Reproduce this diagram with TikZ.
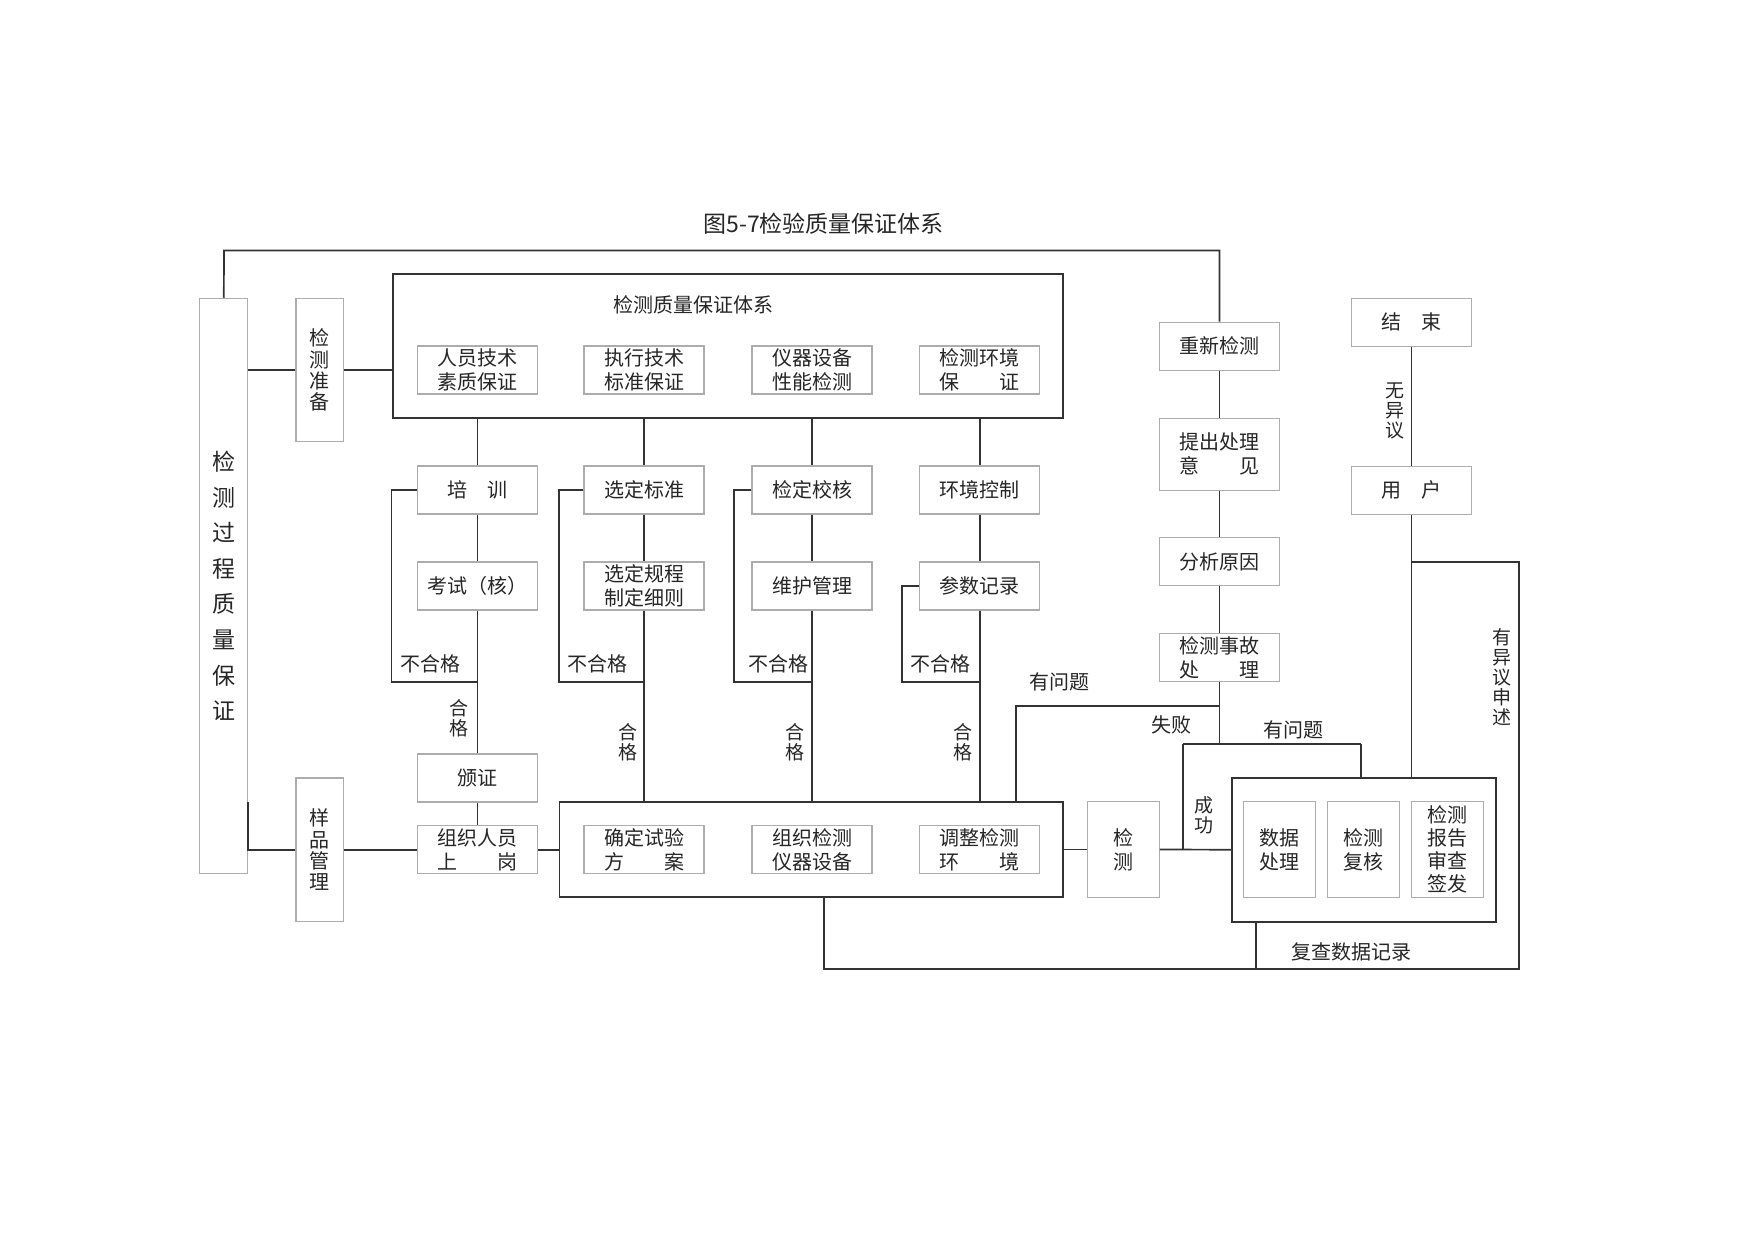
\documentclass[tikz,border=0pt]{standalone}
\usepackage{fontspec}
\newfontfamily\cjk{Noto Sans CJK SC}
\definecolor{boxgray}{gray}{0.68}
\definecolor{linec}{gray}{0.2}
\definecolor{txtc}{gray}{0.15}
\begin{document}
\begin{tikzpicture}[x=0.5pt,y=-0.5pt,
  bx/.style={draw=boxgray, line width=0.55pt, fill=white, inner sep=0pt, align=center, text=txtc,
    font=\cjk\fontsize{10}{11.8}\selectfont, minimum width=60pt, minimum height=24pt},
  vbx/.style={bx, minimum width=23.9pt, minimum height=71.7pt, font=\cjk\fontsize{10}{10.6}\selectfont},
  sbx/.style={bx, minimum width=36pt, minimum height=47.8pt, font=\cjk\fontsize{10}{12}\selectfont},
  frm/.style={draw=linec, line width=0.85pt, inner sep=0pt},
  conn/.style={draw=linec, line width=0.85pt},
  lbl/.style={inner sep=0pt, text=txtc, align=center, font=\cjk\fontsize{10}{12}\selectfont},
  vlbl/.style={lbl, font=\cjk\fontsize{9.5}{10}\selectfont}]
\useasboundingbox (0,0) rectangle (1754,1241);
\fill[white] (0,0) rectangle (1754,1241);

% title
\node[lbl, font=\cjk\fontsize{11.5}{13}\selectfont] (title) at (823.5,224) {图5-7检验质量保证体系};

% left column
\node[bx, minimum width=23.9pt, minimum height=287.7pt, font=\cjk\fontsize{11.5}{17.8}\selectfont] (lt) at (223.8,586) {检\\测\\过\\程\\质\\量\\保\\证};
\node[vbx] (prep) at (319.9,370) {检\\测\\准\\备};
\node[vbx] (samp) at (319.9,849.7) {样\\品\\管\\理};

% quality system frame
\node[frm, minimum width=335.05pt, minimum height=72.15pt] (qsys) at (728.25,346.15) {};
\node[lbl] (qsyst) at (693.8,305) {检测质量保证体系};
\node[bx] (r1a) at (477.5,370) {人员技术\\素质保证};
\node[bx] (r1b) at (644,370) {执行技术\\标准保证};
\node[bx] (r1c) at (812,370) {仪器设备\\性能检测};
\node[bx] (r1d) at (979.7,370) {检测环境\\保\hspace{2em}证};

% row 2
\node[bx] (train) at (477.5,490) {培\hspace{1em}训};
\node[bx] (selstd) at (644,490) {选定标准};
\node[bx] (calib) at (812,490) {检定校核};
\node[bx] (envctl) at (979.7,490) {环境控制};

% row 3
\node[bx] (exam) at (477.5,586) {考试（核）};
\node[bx] (selproc) at (644,586) {选定规程\\制定细则};
\node[bx] (maint) at (812,586) {维护管理};
\node[bx] (param) at (979.7,586) {参数记录};

\node[bx] (cert) at (477.5,778) {颁证};
\node[bx] (post) at (477.5,849.7) {组织人员\\上\hspace{2em}岗};

% execution frame
\node[frm, minimum width=251.85pt, minimum height=47.8pt] (exec) at (811.45,849.5) {};
\node[bx] (plan) at (644,849.7) {确定试验\\方\hspace{2em}案};
\node[bx] (inst) at (812,849.7) {组织检测\\仪器设备};
\node[bx] (adj) at (979.7,849.7) {调整检测\\环\hspace{2em}境};

\node[sbx] (test) at (1123.3,849.5) {检\\测};

% report frame
\node[frm, minimum width=132pt, minimum height=72pt] (rep) at (1363.7,849.7) {};
\node[sbx] (dp) at (1279.5,849.5) {数据\\处理};
\node[sbx] (rc) at (1363.3,849.5) {检测\\复核};
\node[sbx, font=\cjk\fontsize{10}{11.6}\selectfont] (rs) at (1447.9,849.5) {检测\\报告\\审查\\签发};

% right chain
\node[bx] (retest) at (1219.5,346.15) {重新检测};
\node[bx, minimum height=36pt] (propose) at (1219.5,454.15) {提出处理\\意\hspace{2em}见};
\node[bx] (analyze) at (1219.5,561.7) {分析原因};
\node[bx] (accident) at (1219.5,657.85) {检测事故\\处\hspace{2em}理};

\node[bx] (endn) at (1411.5,322.15) {结\hspace{1em}束};
\node[bx] (user) at (1411.5,490.35) {用\hspace{1em}户};

% coordinates
\coordinate (looptl) at (224,250.5);
\coordinate (looptr) at (1219.5,250.5);
\coordinate (ltk) at (247.7,801.7);
\coordinate (f1) at (391.6,681.7);
\coordinate (f2) at (558.9,681.7);
\coordinate (f3) at (733.8,681.7);
\coordinate (f4) at (901.7,681.7);
\coordinate (qL) at (1015.7,705.7);
\coordinate (j) at (1219.5,744);
\coordinate (jl) at (1183.3,744);
\coordinate (jr) at (1361,744);
\coordinate (ub) at (1411.5,562.3);
\coordinate (ubr) at (1519.3,562.3);
\coordinate (br) at (1519.3,969.3);
\coordinate (bl) at (824,969.3);
\coordinate (rb) at (1255.7,969.3);

% connectors
\draw[conn] (lt.north) -- (looptl) -- (looptr) -- (retest.north);
\draw[conn] (lt.east |- prep.west) -- (prep.west);
\draw[conn] (prep.east) -- (prep.east -| qsys.west);
\draw[conn] (ltk) |- (samp.west);
\draw[conn] (samp.east) -- (post.west);
\draw[conn] (post.east) -- (post.east -| exec.west);

% column 1
\draw[conn] (train.north |- qsys.south) -- (train.north);
\draw[conn] (train.south) -- (exam.north);
\draw[conn] (exam.south) -- (cert.north);
\draw[conn] (cert.south) -- (post.north);
\draw[conn] (train.west) -| (f1) -- (exam.south |- f1);
% column 2
\draw[conn] (selstd.north |- qsys.south) -- (selstd.north);
\draw[conn] (selstd.south) -- (selproc.north);
\draw[conn] (selproc.south) -- (selproc.south |- exec.north);
\draw[conn] (selstd.west) -| (f2) -- (selproc.south |- f2);
% column 3
\draw[conn] (calib.north |- qsys.south) -- (calib.north);
\draw[conn] (calib.south) -- (maint.north);
\draw[conn] (maint.south) -- (maint.south |- exec.north);
\draw[conn] (calib.west) -| (f3) -- (maint.south |- f3);
% column 4
\draw[conn] (envctl.north |- qsys.south) -- (envctl.north);
\draw[conn] (envctl.south) -- (param.north);
\draw[conn] (param.south) -- (param.south |- exec.north);
\draw[conn] (param.west) -| (f4) -- (param.south |- f4);

% right chain
\draw[conn] (retest.south) -- (propose.north);
\draw[conn] (propose.south) -- (analyze.north);
\draw[conn] (analyze.south) -- (accident.north);
\draw[conn] (accident.south) -- (j);
\draw[conn] (accident.south |- qL) -- (qL) -- (qL |- exec.north);
\draw[conn] (jl) -- (jr);
\draw[conn] (jl) -- (jl |- test.east);
\draw[conn] (jr) -- (jr |- rep.north);
\draw[conn] (exec.east) -- (test.west);
\draw[conn] (test.east) -- (rep.west);

% user column
\draw[conn] (endn.south) -- (user.north);
\draw[conn] (user.south) -- (user.south |- rep.north);
\draw[conn] (ub) -- (ubr) -- (br) -- (bl) -- (bl |- exec.south);
\draw[conn] (rb |- rep.south) -- (rb);

% labels
\node[lbl] (n1) at (430,664) {不合格};
\node[lbl] (n2) at (597,664) {不合格};
\node[lbl] (n3) at (778,664) {不合格};
\node[lbl] (n4) at (940.5,664) {不合格};
\node[vlbl] (p1) at (459,718) {合\\格};
\node[vlbl] (p2) at (627.5,742.5) {合\\格};
\node[vlbl] (p3) at (795,742.5) {合\\格};
\node[vlbl] (p4) at (963.3,742.5) {合\\格};
\node[lbl] (q1) at (1059,681.7) {有问题};
\node[lbl] (fail) at (1171.7,725) {失败};
\node[lbl] (q2) at (1293.8,730) {有问题};
\node[vlbl] (succ) at (1204,815) {成\\功};
\node[lbl] (rev) at (1351.7,951.7) {复查数据记录};
\node[vlbl] (obj) at (1501.7,677) {有\\异\\议\\申\\述};
\node[vlbl] (noobj) at (1395,411) {无\\异\\议};
\end{tikzpicture}
\end{document}
